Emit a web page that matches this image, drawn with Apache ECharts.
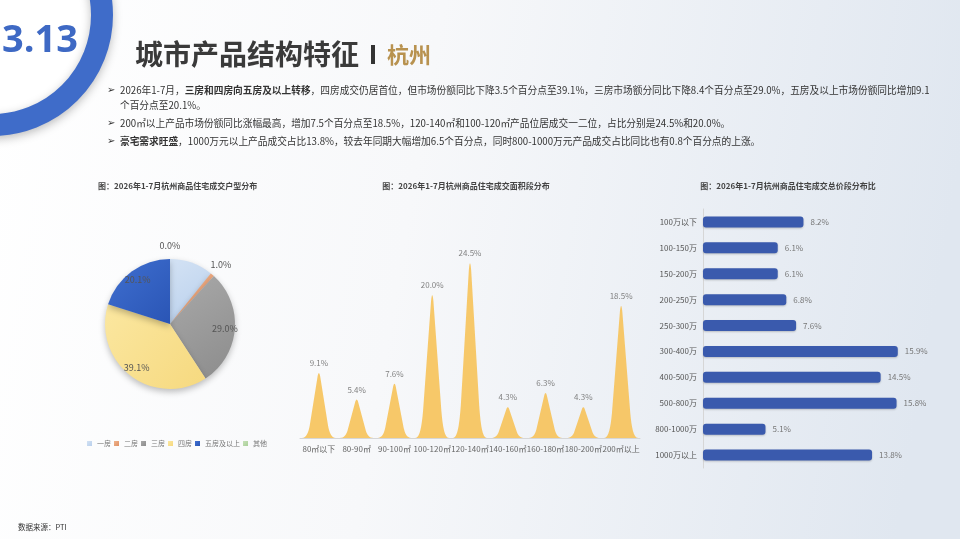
<!DOCTYPE html>
<html>
<head>
<meta charset="utf-8">
<script src="https://cdn.jsdelivr.net/npm/echarts@6/dist/echarts.min.js"></script>
<style>
html,body{margin:0;padding:0;width:960px;height:539px;overflow:hidden;background:#fff;}
#c{width:960px;height:539px;}
</style>
</head>
<body>
<div id="c"></div>
<script>
// ---- data ----
const pieNames = ['一房','二房','三房','四房','五房及以上','其他'];
const pieValues = [10.8, 1.0, 29.0, 39.1, 20.1, 0.0];
const pieInnerLabels = ['三房','四房','五房及以上'];
const pieOuterLabels = ['二房','其他'];

const areaCats = ['80㎡以下','80-90㎡','90-100㎡','100-120㎡','120-140㎡','140-160㎡','160-180㎡','180-200㎡','200㎡以上'];
const areaValues = [9.1, 5.4, 7.6, 20.0, 24.5, 4.3, 6.3, 4.3, 18.5];

const priceCats = ['100万以下','100-150万','150-200万','200-250万','250-300万','300-400万','400-500万','500-800万','800-1000万','1000万以上'];
const priceValues = [8.2, 6.1, 6.1, 6.8, 7.6, 15.9, 14.5, 15.8, 5.1, 13.8];

const chartTitles = ['图：2026年1-7月杭州商品住宅成交户型分布','图：2026年1-7月杭州商品住宅成交面积段分布','图：2026年1-7月杭州商品住宅成交总价段分布比'];

// ---- styles ----
const FONT = '"Noto Sans CJK SC", "Noto Sans", sans-serif';
function lg(c1, c2){ return new echarts.graphic.LinearGradient(0,0,1,1,[{offset:0,color:c1},{offset:1,color:c2}]); }
const pieColors = [lg('#d3e2f4','#b8cfec'), lg('#f0b48c','#de9065'), lg('#a9a9a9','#8c8c8c'), lg('#fbe7a0','#f6d97f'), lg('#3f6fd0','#2a55b5'), lg('#c6e0b8','#a9cf98')];

const fmtPct = p => Number(p.value).toFixed(1) + '%';

const pieMain = pieNames.map((n,i)=>({name:n, value:pieValues[i], itemStyle:{color:pieColors[i]}}));
const pieInner = pieNames.map((n,i)=>({name:n, value:pieValues[i], label:{show: pieInnerLabels.includes(n)}}));
const pieOuter = pieNames.map((n,i)=>({name:n, value:pieValues[i], label:{show: pieOuterLabels.includes(n)}}));

const tr = 'rgba(0,0,0,0)';
const labelPie = (r, data) => ({
  type:'pie', center:[170,324], radius:[0,r], startAngle:90, clockwise:true, silent:true,
  emphasis:{disabled:true}, legendHoverLink:false,
  itemStyle:{color:tr, borderWidth:0},
  label:{position:'inside', fontSize:9, color:'#555', formatter:fmtPct, fontFamily:FONT},
  labelLine:{show:false}, data:data, z:3
});

const bodyRich = {
  n:{fontSize:9.7, fontFamily:FONT, color:'#333'},
  b:{fontSize:9.7, fontFamily:FONT, fontWeight:'bold', color:'#222'}
};
function bodyLine(y, text){
  return {type:'text', x:120, y:y, z:20, style:{text:text, rich:bodyRich, verticalAlign:'middle', font:'9.7px '+FONT, fill:'#333'}};
}
function bullet(y){
  return {type:'text', x:107, y:y, z:20, style:{text:'➢', font:'10px "DejaVu Sans"', fill:'#333', verticalAlign:'middle'}};
}

const chart = echarts.init(document.getElementById('c'), null, {renderer:'canvas'});
const option = {
  animation:false,
  backgroundColor: new echarts.graphic.LinearGradient(0,0,1,0.3,[
    {offset:0,color:'#ffffff'},{offset:0.45,color:'#f7f8fa'},{offset:1,color:'#e0e7f0'}]),
  textStyle:{fontFamily:FONT},
  legend:{
    left:87, top:440, padding:0, itemWidth:5, itemHeight:5, itemGap:3, icon:'rect',
    data:pieNames, textStyle:{fontSize:7, color:'#777', fontFamily:FONT}
  },
  grid:[
    {left:300, top:224, width:340, height:214},
    {left:703, top:209, width:245, height:259}
  ],
  xAxis:[
    {gridIndex:0, type:'category', data:areaCats,
     axisLine:{lineStyle:{color:'#d6d6d6'}}, axisTick:{show:false},
     axisLabel:{interval:0, fontSize:8, color:'#666', margin:7, fontFamily:FONT}},
    {gridIndex:1, type:'value', min:0, max:20, show:false}
  ],
  yAxis:[
    {gridIndex:0, type:'value', min:0, max:30, show:false},
    {gridIndex:1, type:'category', data:priceCats, inverse:true,
     axisLine:{show:true, lineStyle:{color:'#d6d6d6'}}, axisTick:{show:false},
     axisLabel:{fontSize:8, color:'#555', margin:6, fontFamily:FONT}}
  ],
  series:[
    {type:'pie', center:[170,324], radius:[0,65], startAngle:90, clockwise:true,
     label:{show:false}, labelLine:{show:false}, data:pieMain, z:2,
     itemStyle:{shadowBlur:6, shadowColor:'rgba(0,0,0,0.25)', shadowOffsetY:3}},
    labelPie(104, pieInner),
    labelPie(150, pieOuter),
    {type:'pictorialBar', xAxisIndex:0, yAxisIndex:0, data:areaValues,
     symbol:'path://M0,10 C1.4,10 1.9,9.2 2.3,8.2 L4.65,0.8 Q5,0 5.35,0.8 L7.7,8.2 C8.1,9.2 8.6,10 10,10 z',
     symbolSize:[34,'100%'],
     itemStyle:{color:'#f6c35c', opacity:0.92},
     label:{show:true, position:'top', distance:6, fontSize:8, color:'#777', formatter:fmtPct, fontFamily:FONT}},
    {type:'bar', xAxisIndex:1, yAxisIndex:1, data:priceValues, barWidth:11,
     itemStyle:{color:'#3a5aad', borderRadius:3, shadowBlur:2, shadowColor:'rgba(0,0,0,0.2)', shadowOffsetY:1},
     label:{show:true, position:'right', distance:7, fontSize:8, color:'#777', formatter:fmtPct, fontFamily:FONT}}
  ],
  graphic:[
    {type:'circle', shape:{cx:-8, cy:15, r:110}, z:10,
     style:{fill:'#ffffff', stroke:'#3f6cc9', lineWidth:22, shadowBlur:10, shadowColor:'rgba(0,0,0,0.25)', shadowOffsetY:3}},
    {type:'text', x:78, y:41, z:11, style:{text:'3.13', font:'bold 38px "Open Sans", "Noto Sans", sans-serif', fill:'#3e69c4', align:'right', verticalAlign:'middle'}},
    {type:'text', x:135, y:54, z:11, style:{text:'城市产品结构特征', font:'bold 28px '+FONT, fill:'#3a3a3a', verticalAlign:'middle'}},
    {type:'rect', shape:{x:371, y:45, width:4, height:19}, z:11, style:{fill:'#333'}},
    {type:'text', x:387, y:55, z:11, style:{text:'杭州', font:'bold 22px '+FONT, fill:'#b8924f', verticalAlign:'middle'}},
    bullet(90),
    bodyLine(90, '{n|2026年1-7月，}{b|三房和四房向五房及以上转移}{n|，四房成交仍居首位，但市场份额同比下降3.5个百分点至39.1%，三房市场额分同比下降8.4个百分点至29.0%，五房及以上市场份额同比增加9.1}'),
    bodyLine(105, '{n|个百分点至20.1%。}'),
    bullet(123),
    bodyLine(123, '{n|200㎡以上产品市场份额同比涨幅最高，增加7.5个百分点至18.5%，120-140㎡和100-120㎡产品位居成交一二位，占比分别是24.5%和20.0%。}'),
    bullet(141),
    bodyLine(141, '{b|豪宅需求旺盛}{n|，1000万元以上产品成交占比13.8%，较去年同期大幅增加6.5个百分点，同时800-1000万元产品成交占比同比也有0.8个百分点的上涨。}'),
    {type:'text', x:98, y:186, z:11, style:{text:chartTitles[0], font:'bold 8px '+FONT, fill:'#444', verticalAlign:'middle'}},
    {type:'text', x:466, y:186, z:11, style:{text:chartTitles[1], font:'bold 8px '+FONT, fill:'#444', align:'center', verticalAlign:'middle'}},
    {type:'text', x:788, y:186, z:11, style:{text:chartTitles[2], font:'bold 8px '+FONT, fill:'#444', align:'center', verticalAlign:'middle'}},
    {type:'text', x:18, y:527, z:11, style:{text:'数据来源：PTI', font:'7.5px '+FONT, fill:'#333', verticalAlign:'middle'}}
  ]
};
chart.setOption(option);
</script>
</body>
</html>
